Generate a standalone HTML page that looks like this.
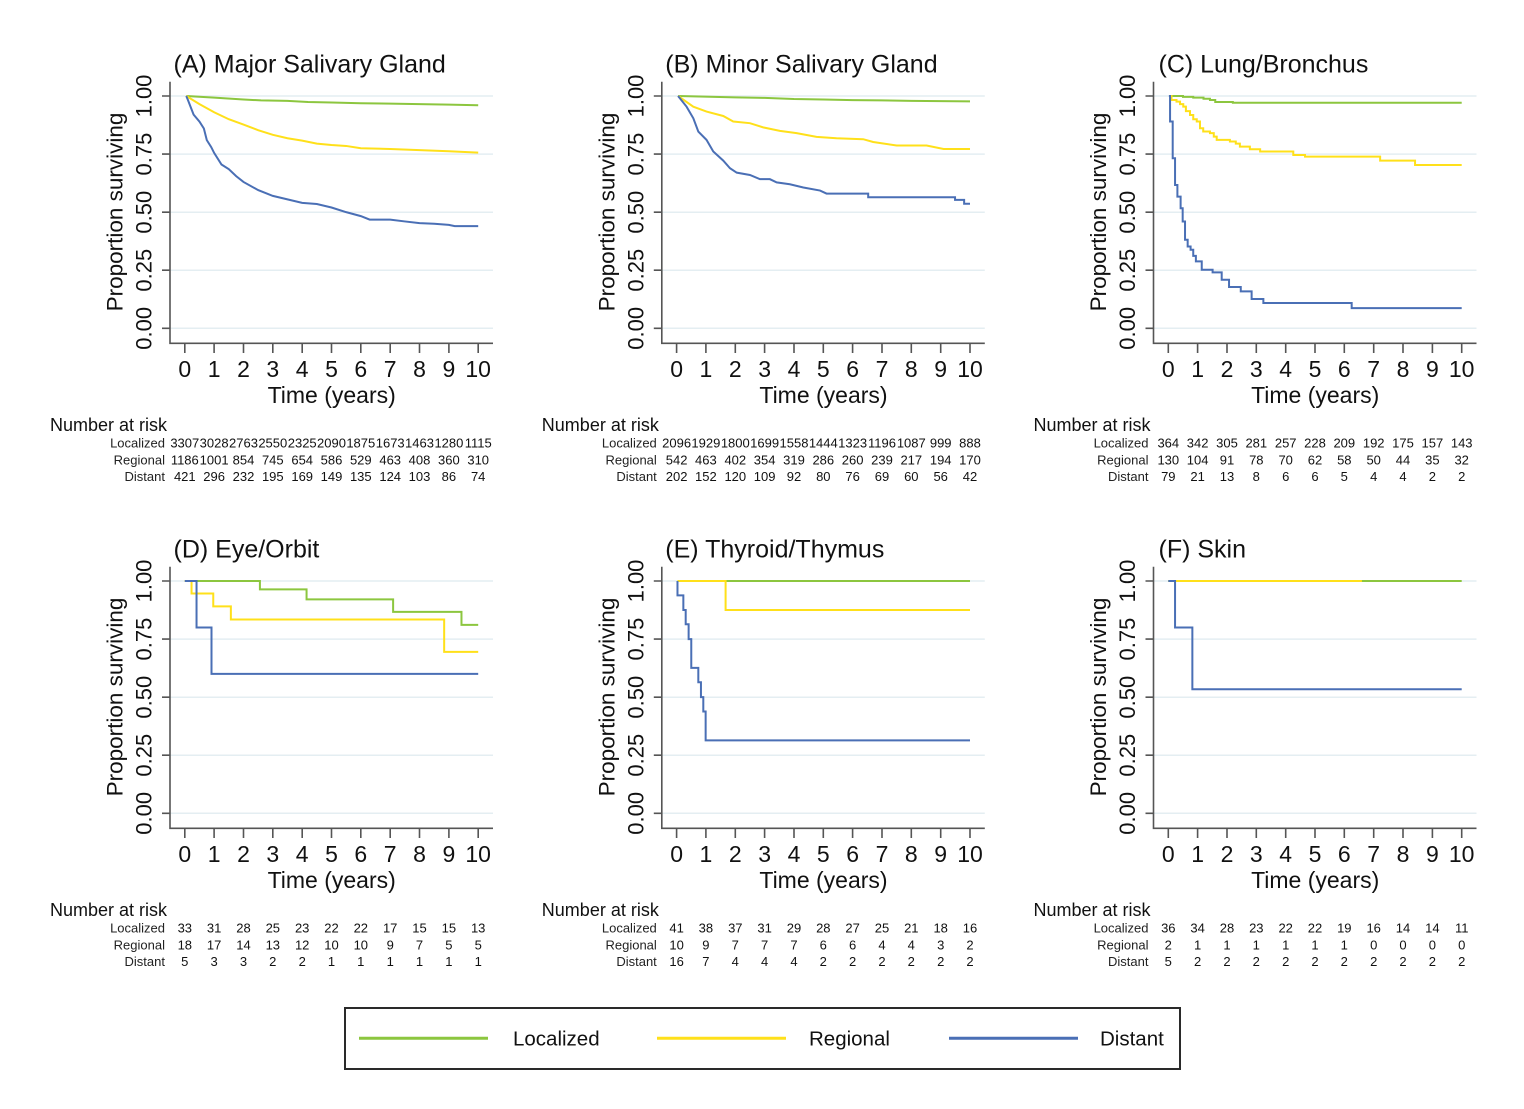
<!DOCTYPE html>
<html>
<head>
<meta charset="utf-8">
<style>
html,body{margin:0;padding:0;background:#fff;}
svg{display:block;}
text{font-family:"Liberation Sans",Arial,sans-serif;fill:#111;}
.grid{stroke:#e4eef2;stroke-width:1.5;}
.ax{stroke:#555;stroke-width:1.6;fill:none;}
.yt{font-size:22px;}
.xt{font-size:23px;}
.ttl{font-size:25px;}
.axt{font-size:22.5px;}
.nar{font-size:18px;}
.rl{font-size:13px;text-anchor:end;fill:#222;}
.rn{font-size:13px;text-anchor:middle;fill:#222;}
.c path{fill:none;stroke-width:2;vector-effect:non-scaling-stroke;}
.g{stroke:#8cc63f;}
.y{stroke:#ffe01a;}
.b{stroke:#4a6fb5;}
</style>
</head>
<body>
<svg width="1524" height="1109" viewBox="0 0 1524 1109" xmlns="http://www.w3.org/2000/svg">
<defs>
<g id="frame">
  <path class="grid" d="M170,96H493M170,154.1H493M170,212.2H493M170,270.2H493M170,328.3H493"/>
  <path class="ax" d="M170,81.7V343.3H493"/>
  <path class="ax" d="M162,96H170M162,154.1H170M162,212.2H170M162,270.2H170M162,328.3H170"/>
  <path class="ax" d="M184.8,343.3V353M214.1,343.3V353M243.5,343.3V353M272.8,343.3V353M302.2,343.3V353M331.5,343.3V353M360.8,343.3V353M390.2,343.3V353M419.5,343.3V353M448.9,343.3V353M478.2,343.3V353"/>
  <g class="yt" text-anchor="middle">
    <text transform="translate(151.5,96) rotate(-90)">1.00</text>
    <text transform="translate(151.5,154.1) rotate(-90)">0.75</text>
    <text transform="translate(151.5,212.2) rotate(-90)">0.50</text>
    <text transform="translate(151.5,270.2) rotate(-90)">0.25</text>
    <text transform="translate(151.5,328.3) rotate(-90)">0.00</text>
  </g>
  <g class="xt" text-anchor="middle">
    <text x="184.8" y="377">0</text><text x="214.1" y="377">1</text><text x="243.5" y="377">2</text>
    <text x="272.8" y="377">3</text><text x="302.2" y="377">4</text><text x="331.5" y="377">5</text>
    <text x="360.8" y="377">6</text><text x="390.2" y="377">7</text><text x="419.5" y="377">8</text>
    <text x="448.9" y="377">9</text><text x="478.2" y="377">10</text>
  </g>
  <text class="axt" text-anchor="middle" transform="translate(122.5,212) rotate(-90)">Proportion surviving</text>
  <text class="xt" x="331.7" y="403" text-anchor="middle">Time (years)</text>
  <text class="nar" x="50" y="431">Number at risk</text>
  <text class="rl" x="165" y="447.5">Localized</text>
  <text class="rl" x="165" y="464.5">Regional</text>
  <text class="rl" x="165" y="481">Distant</text>
</g>
</defs>

<!-- Panel A -->
<g>
  <use href="#frame"/>
  <text class="ttl" x="173.5" y="72.5">(A) Major Salivary Gland</text>
  <g class="rn">
    <text x="184.8" y="447.5">3307</text><text x="214.1" y="447.5">3028</text><text x="243.5" y="447.5">2763</text><text x="272.8" y="447.5">2550</text><text x="302.2" y="447.5">2325</text><text x="331.5" y="447.5">2090</text><text x="360.8" y="447.5">1875</text><text x="390.2" y="447.5">1673</text><text x="419.5" y="447.5">1463</text><text x="448.9" y="447.5">1280</text><text x="478.2" y="447.5">1115</text>
    <text x="184.8" y="464.5">1186</text><text x="214.1" y="464.5">1001</text><text x="243.5" y="464.5">854</text><text x="272.8" y="464.5">745</text><text x="302.2" y="464.5">654</text><text x="331.5" y="464.5">586</text><text x="360.8" y="464.5">529</text><text x="390.2" y="464.5">463</text><text x="419.5" y="464.5">408</text><text x="448.9" y="464.5">360</text><text x="478.2" y="464.5">310</text>
    <text x="184.8" y="481">421</text><text x="214.1" y="481">296</text><text x="243.5" y="481">232</text><text x="272.8" y="481">195</text><text x="302.2" y="481">169</text><text x="331.5" y="481">149</text><text x="360.8" y="481">135</text><text x="390.2" y="481">124</text><text x="419.5" y="481">103</text><text x="448.9" y="481">86</text><text x="478.2" y="481">74</text>
  </g>
  <svg class="c" x="184.8" y="96" width="293.4" height="232.3" viewBox="0 0 10 1" preserveAspectRatio="none" overflow="visible">
    <path class="g" d="M0.05,0 L1,0.007 L2,0.015 L2.6,0.019 L3.5,0.021 L4.2,0.026 L5,0.028 L6,0.031 L7,0.033 L8,0.035 L9,0.037 L10,0.04"/>
    <path class="y" d="M0.05,0 L0.5,0.035 L1,0.07 L1.5,0.1 L2,0.123 L2.5,0.147 L3,0.167 L3.5,0.182 L4,0.192 L4.5,0.205 L5,0.211 L5.5,0.215 L6,0.225 L7,0.228 L8,0.233 L9,0.238 L10,0.244"/>
    <path class="b" d="M0.05,0 L0.1,0.015 L0.3,0.08 L0.5,0.11 L0.65,0.14 L0.75,0.19 L0.9,0.22 L1,0.245 L1.25,0.295 L1.5,0.315 L1.75,0.345 L2,0.37 L2.5,0.405 L3,0.43 L3.5,0.445 L4,0.46 L4.5,0.465 L5,0.48 L5.5,0.5 L6,0.517 L6.3,0.532 L7,0.532 L7.5,0.54 L8,0.547 L8.5,0.55 L9,0.555 L9.2,0.56 L10,0.56"/>
  </svg>
</g>

<!-- Panel B -->
<g transform="translate(491.8,0)">
  <use href="#frame"/>
  <text class="ttl" x="173.5" y="72.5">(B) Minor Salivary Gland</text>
  <g class="rn">
    <text x="184.8" y="447.5">2096</text><text x="214.1" y="447.5">1929</text><text x="243.5" y="447.5">1800</text><text x="272.8" y="447.5">1699</text><text x="302.2" y="447.5">1558</text><text x="331.5" y="447.5">1444</text><text x="360.8" y="447.5">1323</text><text x="390.2" y="447.5">1196</text><text x="419.5" y="447.5">1087</text><text x="448.9" y="447.5">999</text><text x="478.2" y="447.5">888</text>
    <text x="184.8" y="464.5">542</text><text x="214.1" y="464.5">463</text><text x="243.5" y="464.5">402</text><text x="272.8" y="464.5">354</text><text x="302.2" y="464.5">319</text><text x="331.5" y="464.5">286</text><text x="360.8" y="464.5">260</text><text x="390.2" y="464.5">239</text><text x="419.5" y="464.5">217</text><text x="448.9" y="464.5">194</text><text x="478.2" y="464.5">170</text>
    <text x="184.8" y="481">202</text><text x="214.1" y="481">152</text><text x="243.5" y="481">120</text><text x="272.8" y="481">109</text><text x="302.2" y="481">92</text><text x="331.5" y="481">80</text><text x="360.8" y="481">76</text><text x="390.2" y="481">69</text><text x="419.5" y="481">60</text><text x="448.9" y="481">56</text><text x="478.2" y="481">42</text>
  </g>
  <svg class="c" x="184.8" y="96" width="293.4" height="232.3" viewBox="0 0 10 1" preserveAspectRatio="none" overflow="visible">
    <path class="g" d="M0.05,0 L2,0.006 L3,0.008 L4,0.013 L5,0.015 L6,0.018 L7,0.019 L8,0.021 L9,0.022 L10,0.023"/>
    <path class="y" d="M0.05,0 L0.57,0.046 L1.02,0.067 L1.59,0.086 L1.93,0.11 L2.5,0.117 L2.95,0.135 L3.52,0.15 L4.09,0.16 L4.77,0.176 L5.45,0.182 L6.36,0.186 L6.7,0.198 L7.5,0.213 L8.52,0.213 L9.1,0.228 L10,0.228"/>
    <path class="b" d="M0.05,0 L0.34,0.046 L0.57,0.096 L0.74,0.153 L1.02,0.189 L1.25,0.239 L1.59,0.278 L1.82,0.311 L2.05,0.33 L2.5,0.34 L2.84,0.358 L3.18,0.358 L3.41,0.372 L3.86,0.38 L4.32,0.394 L4.89,0.407 L5.11,0.42 H6.53 V0.436 H9.49 V0.447 H9.8 V0.464 H10"/>
  </svg>
</g>

<!-- Panel C -->
<g transform="translate(983.5,0)">
  <use href="#frame"/>
  <text class="ttl" x="175" y="72.5">(C) Lung/Bronchus</text>
  <g class="rn">
    <text x="184.8" y="447.5">364</text><text x="214.1" y="447.5">342</text><text x="243.5" y="447.5">305</text><text x="272.8" y="447.5">281</text><text x="302.2" y="447.5">257</text><text x="331.5" y="447.5">228</text><text x="360.8" y="447.5">209</text><text x="390.2" y="447.5">192</text><text x="419.5" y="447.5">175</text><text x="448.9" y="447.5">157</text><text x="478.2" y="447.5">143</text>
    <text x="184.8" y="464.5">130</text><text x="214.1" y="464.5">104</text><text x="243.5" y="464.5">91</text><text x="272.8" y="464.5">78</text><text x="302.2" y="464.5">70</text><text x="331.5" y="464.5">62</text><text x="360.8" y="464.5">58</text><text x="390.2" y="464.5">50</text><text x="419.5" y="464.5">44</text><text x="448.9" y="464.5">35</text><text x="478.2" y="464.5">32</text>
    <text x="184.8" y="481">79</text><text x="214.1" y="481">21</text><text x="243.5" y="481">13</text><text x="272.8" y="481">8</text><text x="302.2" y="481">6</text><text x="331.5" y="481">6</text><text x="360.8" y="481">5</text><text x="390.2" y="481">4</text><text x="419.5" y="481">4</text><text x="448.9" y="481">2</text><text x="478.2" y="481">2</text>
  </g>
  <svg class="c" x="184.8" y="96" width="293.4" height="232.3" viewBox="0 0 10 1" preserveAspectRatio="none" overflow="visible">
    <path class="g" d="M0.05,0 H0.5 V0.004 H0.85 V0.007 H1.2 V0.012 H1.42 V0.017 H1.6 V0.026 H2.2 V0.029 H10"/>
    <path class="y" d="M0.05,0 H0.11 V0.017 H0.28 V0.024 H0.4 V0.035 H0.51 V0.046 H0.6 V0.065 H0.74 V0.082 H0.85 V0.1 H0.97 V0.11 H1.08 V0.139 H1.19 V0.153 H1.42 V0.16 H1.55 V0.175 H1.65 V0.189 H2.1 V0.196 H2.3 V0.205 H2.44 V0.218 H2.78 V0.229 H3.13 V0.239 H4.26 V0.254 H4.66 V0.261 H7.22 V0.278 H8.41 V0.297 H10"/>
    <path class="b" d="M0.02,0 H0.06 V0.11 H0.15 V0.268 H0.23 V0.383 H0.31 V0.433 H0.42 V0.483 H0.49 V0.54 H0.57 V0.619 H0.66 V0.648 H0.76 V0.662 H0.85 V0.688 H0.94 V0.712 H1.14 V0.748 H1.51 V0.759 H1.82 V0.791 H2.07 V0.822 H2.47 V0.841 H2.84 V0.874 H3.24 V0.891 H6.25 V0.913 H10"/>
  </svg>
</g>

<!-- Panel D -->
<g transform="translate(0,485)">
  <use href="#frame"/>
  <text class="ttl" x="173.5" y="72.5">(D) Eye/Orbit</text>
  <g class="rn">
    <text x="184.8" y="447.5">33</text><text x="214.1" y="447.5">31</text><text x="243.5" y="447.5">28</text><text x="272.8" y="447.5">25</text><text x="302.2" y="447.5">23</text><text x="331.5" y="447.5">22</text><text x="360.8" y="447.5">22</text><text x="390.2" y="447.5">17</text><text x="419.5" y="447.5">15</text><text x="448.9" y="447.5">15</text><text x="478.2" y="447.5">13</text>
    <text x="184.8" y="464.5">18</text><text x="214.1" y="464.5">17</text><text x="243.5" y="464.5">14</text><text x="272.8" y="464.5">13</text><text x="302.2" y="464.5">12</text><text x="331.5" y="464.5">10</text><text x="360.8" y="464.5">10</text><text x="390.2" y="464.5">9</text><text x="419.5" y="464.5">7</text><text x="448.9" y="464.5">5</text><text x="478.2" y="464.5">5</text>
    <text x="184.8" y="481">5</text><text x="214.1" y="481">3</text><text x="243.5" y="481">3</text><text x="272.8" y="481">2</text><text x="302.2" y="481">2</text><text x="331.5" y="481">1</text><text x="360.8" y="481">1</text><text x="390.2" y="481">1</text><text x="419.5" y="481">1</text><text x="448.9" y="481">1</text><text x="478.2" y="481">1</text>
  </g>
  <svg class="c" x="184.8" y="96" width="293.4" height="232.3" viewBox="0 0 10 1" preserveAspectRatio="none" overflow="visible">
    <path class="g" d="M0,0 H2.56 V0.036 H4.15 V0.079 H7.1 V0.133 H9.43 V0.189 H10"/>
    <path class="y" d="M0,0 H0.23 V0.054 H0.97 V0.109 H1.57 V0.166 H8.84 V0.305 H10"/>
    <path class="b" d="M0,0 H0.4 V0.2 H0.91 V0.4 H10"/>
  </svg>
</g>

<!-- Panel E -->
<g transform="translate(491.8,485)">
  <use href="#frame"/>
  <text class="ttl" x="173.5" y="72.5">(E) Thyroid/Thymus</text>
  <g class="rn">
    <text x="184.8" y="447.5">41</text><text x="214.1" y="447.5">38</text><text x="243.5" y="447.5">37</text><text x="272.8" y="447.5">31</text><text x="302.2" y="447.5">29</text><text x="331.5" y="447.5">28</text><text x="360.8" y="447.5">27</text><text x="390.2" y="447.5">25</text><text x="419.5" y="447.5">21</text><text x="448.9" y="447.5">18</text><text x="478.2" y="447.5">16</text>
    <text x="184.8" y="464.5">10</text><text x="214.1" y="464.5">9</text><text x="243.5" y="464.5">7</text><text x="272.8" y="464.5">7</text><text x="302.2" y="464.5">7</text><text x="331.5" y="464.5">6</text><text x="360.8" y="464.5">6</text><text x="390.2" y="464.5">4</text><text x="419.5" y="464.5">4</text><text x="448.9" y="464.5">3</text><text x="478.2" y="464.5">2</text>
    <text x="184.8" y="481">16</text><text x="214.1" y="481">7</text><text x="243.5" y="481">4</text><text x="272.8" y="481">4</text><text x="302.2" y="481">4</text><text x="331.5" y="481">2</text><text x="360.8" y="481">2</text><text x="390.2" y="481">2</text><text x="419.5" y="481">2</text><text x="448.9" y="481">2</text><text x="478.2" y="481">2</text>
  </g>
  <svg class="c" x="184.8" y="96" width="293.4" height="232.3" viewBox="0 0 10 1" preserveAspectRatio="none" overflow="visible">
    <path class="g" d="M0.03,0 H10"/>
    <path class="y" d="M0.03,0 H1.67 V0.125 H10"/>
    <path class="b" d="M0.03,0 V0.062 H0.23 V0.125 H0.31 V0.186 H0.41 V0.25 H0.5 V0.374 H0.74 V0.436 H0.83 V0.5 H0.91 V0.562 H0.99 V0.686 H10"/>
  </svg>
</g>

<!-- Panel F -->
<g transform="translate(983.5,485)">
  <use href="#frame"/>
  <text class="ttl" x="175" y="72.5">(F) Skin</text>
  <g class="rn">
    <text x="184.8" y="447.5">36</text><text x="214.1" y="447.5">34</text><text x="243.5" y="447.5">28</text><text x="272.8" y="447.5">23</text><text x="302.2" y="447.5">22</text><text x="331.5" y="447.5">22</text><text x="360.8" y="447.5">19</text><text x="390.2" y="447.5">16</text><text x="419.5" y="447.5">14</text><text x="448.9" y="447.5">14</text><text x="478.2" y="447.5">11</text>
    <text x="184.8" y="464.5">2</text><text x="214.1" y="464.5">1</text><text x="243.5" y="464.5">1</text><text x="272.8" y="464.5">1</text><text x="302.2" y="464.5">1</text><text x="331.5" y="464.5">1</text><text x="360.8" y="464.5">1</text><text x="390.2" y="464.5">0</text><text x="419.5" y="464.5">0</text><text x="448.9" y="464.5">0</text><text x="478.2" y="464.5">0</text>
    <text x="184.8" y="481">5</text><text x="214.1" y="481">2</text><text x="243.5" y="481">2</text><text x="272.8" y="481">2</text><text x="302.2" y="481">2</text><text x="331.5" y="481">2</text><text x="360.8" y="481">2</text><text x="390.2" y="481">2</text><text x="419.5" y="481">2</text><text x="448.9" y="481">2</text><text x="478.2" y="481">2</text>
  </g>
  <svg class="c" x="184.8" y="96" width="293.4" height="232.3" viewBox="0 0 10 1" preserveAspectRatio="none" overflow="visible">
    <path class="g" d="M0,0 H10"/>
    <path class="y" d="M0,0 H6.6"/>
    <path class="b" d="M0,0 H0.23 V0.2 H0.82 V0.466 H10"/>
  </svg>
</g>

<!-- Legend -->
<rect x="345" y="1008" width="835" height="61" fill="none" stroke="#2a2a2a" stroke-width="2"/>
<path d="M359,1038.3H488" stroke="#8cc63f" stroke-width="3"/>
<path d="M657,1038.3H786" stroke="#ffe01a" stroke-width="3"/>
<path d="M949,1038.3H1078" stroke="#4a6fb5" stroke-width="3"/>
<g style="font-size:20.5px">
  <text x="513" y="1045.5">Localized</text>
  <text x="809" y="1045.5">Regional</text>
  <text x="1100" y="1045.5">Distant</text>
</g>
</svg>
</body>
</html>
